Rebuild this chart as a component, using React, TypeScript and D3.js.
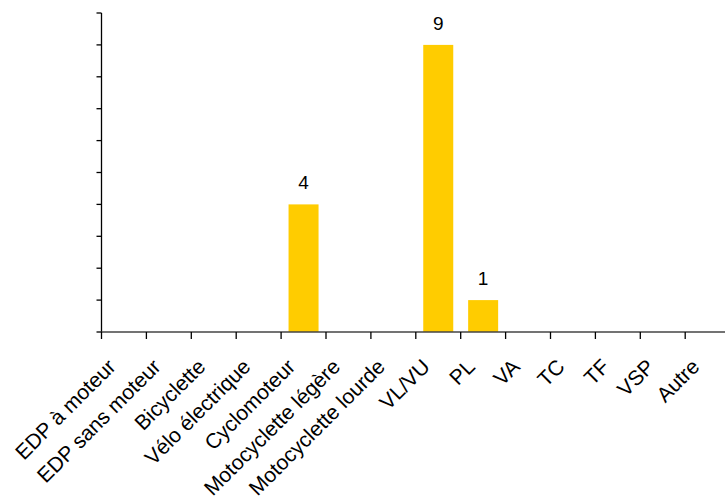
import React from "react";
import * as d3 from "d3";

const categories = [
  "EDP à moteur",
  "EDP sans moteur",
  "Bicyclette",
  "Vélo électrique",
  "Cyclomoteur",
  "Motocyclette légère",
  "Motocyclette lourde",
  "VL/VU",
  "PL",
  "VA",
  "TC",
  "TF",
  "VSP",
  "Autre",
];
const values = [0, 0, 0, 0, 4, 0, 0, 9, 1, 0, 0, 0, 0, 0];
const yTicks = [0, 1, 2, 3, 4, 5, 6, 7, 8, 9, 10];

const W = 725;
const H = 501;
const FONT = "Liberation Sans, Arial, sans-serif";

export default function App() {
  const x = d3
    .scaleBand<string>()
    .domain(categories)
    .range([101.5, 101.5 + 14 * 44.9])
    .paddingInner(0.333)
    .paddingOuter(0.1665);
  const y = d3.scaleLinear().domain([0, 10]).range([332, 13]);
  const x0 = 101.5;
  const bw = 44.9;
  const barW = 30;

  return (
    <svg
      width={W}
      height={H}
      style={{ position: "absolute", left: 0, top: 0, background: "#fff" }}
      fontFamily={FONT}
    >
      {categories.map((c, i) =>
        values[i] > 0 ? (
          <g key={c}>
            <rect
              x={x0 + i * bw + (bw - barW) / 2}
              y={y(values[i])}
              width={barW}
              height={y(0) - y(values[i])}
              fill="#FFCC00"
            />
            <text
              x={x0 + i * bw + bw / 2}
              y={y(values[i]) - 15}
              textAnchor="middle"
              fontSize={19}
              fill="#000"
            >
              {values[i]}
            </text>
          </g>
        ) : null
      )}
      <line x1={x0} x2={x0} y1={y(10)} y2={y(0)} stroke="#000" strokeWidth={1.3} />
      {yTicks.map((t) => (
        <line key={t} x1={x0 - 5} x2={x0} y1={y(t)} y2={y(t)} stroke="#000" strokeWidth={1.3} />
      ))}
      <line x1={x0} x2={W} y1={y(0)} y2={y(0)} stroke="#444" strokeWidth={1.3} />
      {d3.range(15).map((i) => (
        <line
          key={i}
          x1={x0 + i * bw}
          x2={x0 + i * bw}
          y1={y(0)}
          y2={y(0) + 7}
          stroke="#000"
          strokeWidth={1.3}
        />
      ))}
      {categories.map((c, i) => {
        const cx = (x(c) ?? 0) + x.bandwidth() / 2 - 7;
        const cy = y(0) + 36;
        return (
          <text
            key={c}
            x={cx}
            y={cy}
            textAnchor="end"
            fontSize={21}
            fill="#000"
            transform={`rotate(-45 ${cx} ${cy})`}
          >
            {c}
          </text>
        );
      })}
    </svg>
  );
}
